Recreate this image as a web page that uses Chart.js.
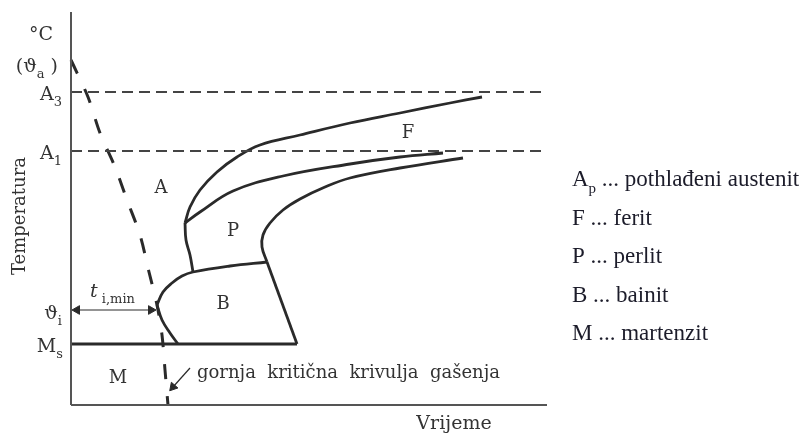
<!DOCTYPE html>
<html>
<head>
<meta charset="utf-8">
<script src="https://cdn.jsdelivr.net/npm/chart.js@4.4.1/dist/chart.umd.min.js"></script>
<style>
  html, body { margin: 0; padding: 0; background: #fff; }
  canvas { display: block; }
</style>
</head>
<body>
<canvas id="ttt" width="807" height="434"></canvas>
<script>
// TTT dijagram: vrijeme (x) i temperatura (y), proizvoljne jedinice
const xMax = 476;
const yMax = 393;

// karakteristicne temperature
const tA3 = 313;
const tA1 = 254;
const tI = 95;
const tMs = 61;

// gornja kriticna krivulja gasenja (isprekidana)
const quenchCurve = [[0,345],[17,308],[29,272],[44,238],[56,205],[69,170],[78,133],[86,100],[91,70],[94,35],[97,0]];
// bainit
const bainiteLower = [[86,100],[91,85],[99,72],[107,61]];
const bainiteUpper = [[86,100],[92,113],[101,122],[111,129],[122,133],[159,139],[196,143]];
const bainiteRight = [[196,143],[226,61]];
// perlit / ferit
const pearliteStem = [[122,133],[119,150],[115,165],[114,182]];
const ferriteStart = [[114,182],[119,198],[129,215],[146,233],[166,248],[189,260],[229,270],[279,282],[329,292],[379,302],[411,308]];
const pearliteStart = [[114,182],[129,193],[162,214],[212,229],[279,241],[329,248],[372,252]];
const pearliteEnd = [[196,143],[191,158],[192,170],[199,182],[212,195],[229,206],[254,218],[279,227],[329,237],[392,247]];
// t i,min strelica
const tiMinArrow = [[6,tI],[80,tI]];
const quenchArrow = [[119,37],[102,18]];

// oznake na osi temperature
const yTickValues = [372, 340, 312, 253, 93, 60];
const yTickLabels = [
  [['°C']],
  [['(ϑ'], ['a', 'sub'], [' )']],
  [['A'], ['3', 'sub']],
  [['A'], ['1', 'sub']],
  [['ϑ'], ['i', 'sub']],
  [['M'], ['s', 'sub']]
];
const yTickGap = [18, 13, 9, 9, 9, 8];

// oznake podrucja
const regionNames = ['A', 'P', 'B', 'M', 'F'];
const regionX = [90, 162, 152, 47, 337];
const regionY = [218, 175, 102, 28, 273];

const legendSymbols = [[['A'], ['p', 'sub']], [['F']], [['P']], [['B']], [['M']]];
const legendTexts = [' ... pothlađeni austenit', ' ... ferit', ' ... perlit', ' ... bainit', ' ... martenzit'];

const toPts = arr => arr.map(p => ({x: p[0], y: p[1]}));
const ink = '#2a2a2a';

function line(data, extra) {
  return Object.assign({
    data: toPts(data), showLine: true, borderColor: ink, borderWidth: 2.8,
    pointRadius: 0, tension: 0.4, fill: false, clip: false
  }, extra || {});
}

const datasets = [
  line([[0,0],[0,yMax]], {borderWidth: 2, borderColor: '#555', tension: 0}),
  line([[0,0],[xMax,0]], {borderWidth: 2, borderColor: '#555', tension: 0}),
  line([[0,tA3],[474,tA3]], {borderWidth: 2, borderColor: '#444', borderDash: [11,6], tension: 0}),
  line([[0,tA1],[474,tA1]], {borderWidth: 2, borderColor: '#444', borderDash: [11,6], tension: 0}),
  line(quenchCurve, {borderWidth: 3, borderDash: [15,17], tension: 0.3}),
  line([[0,tMs],[226,tMs]], {borderWidth: 3, tension: 0}),
  line(bainiteLower),
  line(bainiteUpper),
  line(bainiteRight, {tension: 0}),
  line(pearliteStem),
  line(ferriteStart),
  line(pearliteStart),
  line(pearliteEnd),
  line(tiMinArrow, {borderWidth: 1.2, tension: 0, pointRadius: 5, pointStyle: 'triangle',
    pointRotation: [270, 90], pointBackgroundColor: ink, pointBorderColor: ink, pointBorderWidth: 1}),
  line(quenchArrow, {borderWidth: 1.2, tension: 0, pointRadius: [0, 5], pointStyle: 'triangle',
    pointRotation: [0, 221], pointBackgroundColor: ink, pointBorderColor: ink, pointBorderWidth: 1})
];

function drawRich(ctx, segs, x, yc, size, family, color, align) {
  const fontFor = s => (s[1] === 'it' ? 'italic ' : '') +
    Math.round(s[1] === 'sub' ? size * 0.66 : size) + 'px ' + family;
  let w = 0;
  segs.forEach(s => { ctx.font = fontFor(s); w += ctx.measureText(s[0]).width; });
  let cx = align === 'right' ? x - w : align === 'center' ? x - w / 2 : x;
  const base = yc + size * 0.36;
  ctx.fillStyle = color;
  ctx.textAlign = 'left';
  ctx.textBaseline = 'alphabetic';
  segs.forEach(s => {
    ctx.font = fontFor(s);
    ctx.fillText(s[0], cx, base + (s[1] === 'sub' ? size * 0.3 : 0));
    cx += ctx.measureText(s[0]).width;
  });
}

const textPlugin = {
  id: 'tekst',
  afterDatasetsDraw(chart) {
    const {ctx, scales: {x, y}} = chart;
    const px = v => x.getPixelForValue(v);
    const py = v => y.getPixelForValue(v);
    const serif = '"DejaVu Serif", serif';
    ctx.save();
    yTickValues.forEach((v, i) => drawRich(ctx, yTickLabels[i], px(0) - yTickGap[i], py(v), 19, serif, '#333', 'right'));
    regionNames.forEach((n, i) => drawRich(ctx, [[n]], px(regionX[i]), py(regionY[i]), 18, serif, '#333', 'center'));
    drawRich(ctx, [['t', 'it'], [' i,min', 'sub']], px(19), py(115), 19, serif, '#333', 'left');
    drawRich(ctx, [['gornja  kritična  krivulja  gašenja']], px(126), py(33), 18, serif, '#333', 'left');
    drawRich(ctx, [['Vrijeme']], px(383), py(-17), 19, serif, '#333', 'center');
    ctx.save();
    ctx.translate(px(-52), py(189));
    ctx.rotate(-Math.PI / 2);
    drawRich(ctx, [['Temperatura']], 0, 0, 18, serif, '#333', 'center');
    ctx.restore();
    legendTexts.forEach((t, i) => {
      drawRich(ctx, legendSymbols[i].concat([[t]]), px(501), py(227 - i * 38.5), 23,
        '"Liberation Serif", "Times New Roman", serif', '#1c1c2a', 'left');
    });
    ctx.restore();
  }
};

new Chart(document.getElementById('ttt'), {
  type: 'scatter',
  data: { datasets },
  options: {
    responsive: false,
    animation: false,
    events: [],
    layout: { padding: { left: 71, top: 12, right: 260, bottom: 29 } },
    scales: {
      x: { type: 'linear', min: 0, max: xMax, display: false },
      y: { type: 'linear', min: 0, max: yMax, display: false }
    },
    plugins: { legend: { display: false }, tooltip: { enabled: false } }
  },
  plugins: [textPlugin]
});
</script>
</body>
</html>
